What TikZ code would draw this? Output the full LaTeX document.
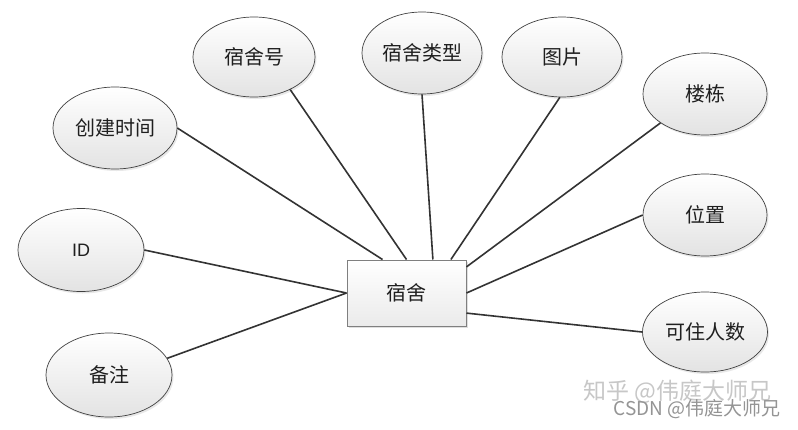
\documentclass[tikz,border=0pt]{standalone}
\usepackage{fontspec}
\newfontfamily\cjk{Noto Sans CJK SC}
\newfontfamily\lat{Liberation Sans}
\usetikzlibrary{shapes.geometric,shadows,calc}
\definecolor{edgecol}{HTML}{333333}
\definecolor{ellborder}{HTML}{404040}
\definecolor{rectborder}{HTML}{7F7F7F}
\tikzset{
  attr/.style={ellipse, draw=ellborder, line width=0.7pt, inner sep=0pt,
    top color=white, bottom color=black!11, shading angle=0,
    drop shadow={opacity=0.18, shadow xshift=1.5pt, shadow yshift=-2pt},
    font=\cjk\fontsize{20}{20}\selectfont, text=black!88},
  entity/.style={rectangle, draw=rectborder, line width=1pt, inner sep=0pt,
    minimum width=119pt, minimum height=66pt,
    top color=white, bottom color=black!8,
    drop shadow={opacity=0.25, shadow xshift=2pt, shadow yshift=-2pt},
    font=\cjk\fontsize{20}{20}\selectfont, text=black!88},
  link/.style={draw=edgecol, line width=1.6pt},
  mark1/.style={font=\cjk\fontsize{23}{23}\selectfont, text=black!22, anchor=west},
  mark2/.style={font=\cjk\fontsize{19}{19}\selectfont, text=black!42, anchor=west}
}
\begin{document}
\begin{tikzpicture}[x=1pt,y=-1pt]
\useasboundingbox[fill=white] (0,0) rectangle (798,429);

\node[entity] (room) at (406.5,293) {宿舍};

\node[attr, minimum width=124pt, minimum height=82pt] (ctime) at (115,128) {创建时间};
\node[attr, minimum width=122pt, minimum height=80pt] (rno) at (254,57) {宿舍号};
\node[attr, minimum width=120pt, minimum height=82pt] (rtype) at (422,53) {宿舍类型};
\node[attr, minimum width=120pt, minimum height=80pt] (pic) at (562,57) {图片};
\node[attr, minimum width=124pt, minimum height=82pt] (bldg) at (705,94) {楼栋};
\node[attr, minimum width=124pt, minimum height=82pt] (loc) at (705,215) {位置};
\node[attr, minimum width=125pt, minimum height=80pt] (cap) at (705,332) {可住人数};
\node[attr, minimum width=126pt, minimum height=83pt, font=\lat\fontsize{18}{18}\selectfont] (id) at (81,250) {ID};
\node[attr, minimum width=126pt, minimum height=84pt] (note) at (109,375) {备注};

\coordinate (t1) at ($(room.north west)!0.30!(room.north east)$);
\coordinate (t2) at ($(room.north west)!0.50!(room.north east)$);
\coordinate (t3) at ($(room.north west)!0.72!(room.north east)$);
\coordinate (t4) at ($(room.north west)!0.87!(room.north east)$);
\coordinate (r1) at ($(room.north east)!0.11!(room.south east)$);
\coordinate (r2) at ($(room.north east)!0.50!(room.south east)$);
\coordinate (r3) at ($(room.north east)!0.80!(room.south east)$);

\draw[link] (ctime.east) -- (t1);
\draw[link] (rno.-42) -- (t2);
\draw[link] (rtype.south) -- (t3);
\draw[link] (pic.-93) -- (t4);
\draw[link] (bldg.213) -- (r1);
\draw[link] (loc.west) -- (r2);
\draw[link] (cap.west) -- (r3);
\draw[link] (id.east) -- (room.west);
\draw[link] (note.16) -- (room.west);

\node[mark1] (wm1) at (580,392) {知乎 @伟庭大师兄};
\node[mark2] (wm2) at (610,409) {CSDN @伟庭大师兄};
\end{tikzpicture}
\end{document}
